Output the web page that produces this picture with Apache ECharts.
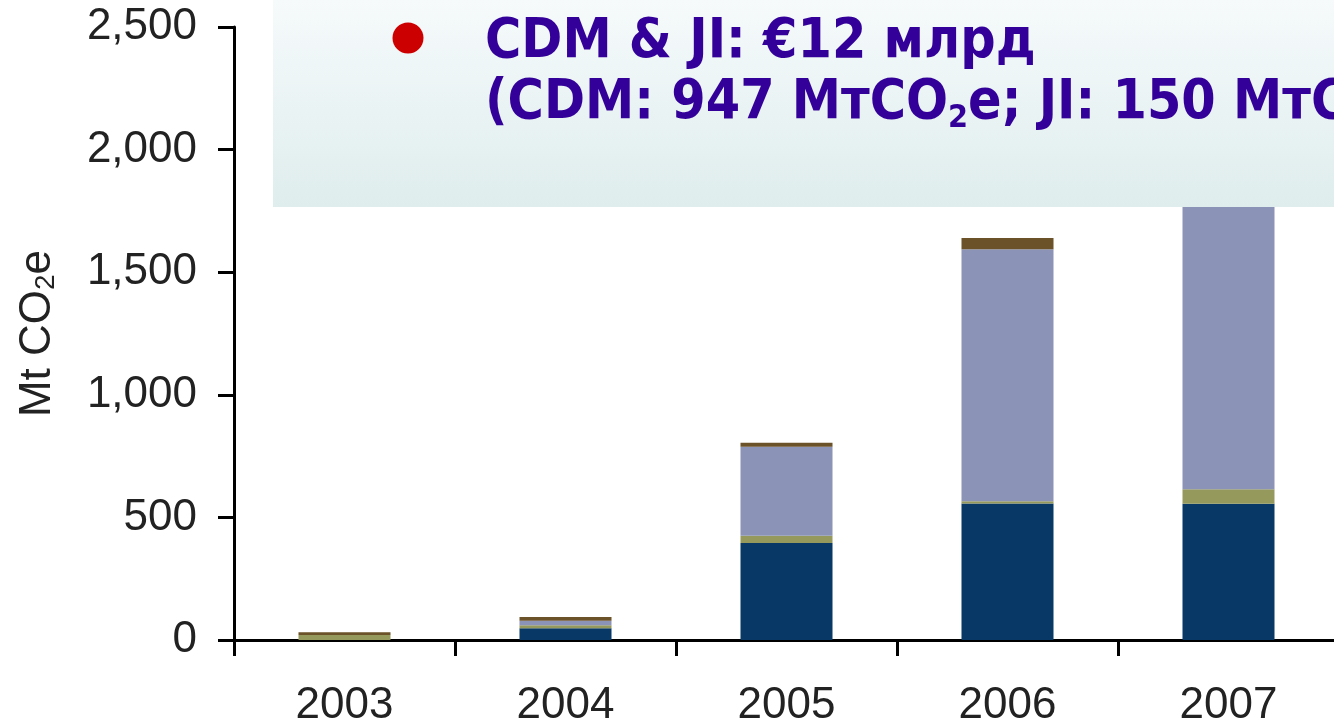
<!DOCTYPE html>
<html>
<head>
<meta charset="utf-8">
<script src="https://cdn.jsdelivr.net/npm/echarts@6/dist/echarts.min.js"></script>
<style>
  html, body { margin: 0; padding: 0; background: #fff; }
  #chart { width: 1334px; height: 724px; }
</style>
</head>
<body>
<div id="chart"></div>
<script>
// years on the x axis
const years = ['2003', '2004', '2005', '2006', '2007'];

// stacked values, Mt CO2e (bottom to top)
const navyVals = [0, 48, 396, 557, 556];
const oliveVals = [20, 12, 29, 9, 59];
const lavenderVals = [0, 18, 363, 1028, 1300];
const brownVals = [12, 16, 16, 45, 40];

const colors = ['#083866', '#959a5c', '#8b94b6', '#6b5228'];

const labelFont = "'Liberation Sans', Arial, sans-serif";
const boxFont = "'DejaVu Sans Condensed', 'DejaVu Sans', sans-serif";

const chart = echarts.init(document.getElementById('chart'));

const makeSeries = (name, data, color) => ({
  name: name,
  type: 'bar',
  stack: 'total',
  data: data,
  barWidth: 92,
  itemStyle: { color: color },
  emphasis: { disabled: true }
});

chart.setOption({
  animation: false,
  backgroundColor: '#fff',
  grid: { left: 234, top: 27, width: 1105, height: 613, containLabel: false, outerBoundsMode: 'none' },
  xAxis: {
    type: 'category',
    data: years,
    axisLine: { lineStyle: { color: '#000', width: 3 } },
    axisTick: { show: true, length: 16, lineStyle: { color: '#000', width: 3 } },
    axisLabel: { color: '#222', fontSize: 44, fontFamily: labelFont, margin: 44 }
  },
  yAxis: {
    type: 'value',
    min: 0,
    max: 2500,
    interval: 500,
    name: '{a|Mt CO}{s|2}{a|e}',
    nameLocation: 'middle',
    nameGap: 174,
    nameRotate: 90,
    nameTextStyle: {
      rich: {
        a: { fontSize: 44, fontFamily: labelFont, color: '#222' },
        s: { fontSize: 28, fontFamily: labelFont, color: '#222', verticalAlign: 'bottom', padding: [14, 0, 0, 0] }
      }
    },
    axisLine: { show: true, lineStyle: { color: '#000', width: 3 } },
    axisTick: { show: true, length: 16, lineStyle: { color: '#000', width: 3 } },
    splitLine: { show: false },
    axisLabel: {
      color: '#222',
      fontSize: 44,
      fontFamily: labelFont,
      margin: 37,
      formatter: v => v.toLocaleString('en-US')
    }
  },
  series: [
    makeSeries('CDM 1', navyVals, colors[0]),
    makeSeries('JI', oliveVals, colors[1]),
    makeSeries('CDM 2', lavenderVals, colors[2]),
    makeSeries('Other', brownVals, colors[3])
  ],
  graphic: [
    {
      type: 'rect',
      z: 100,
      shape: { x: 273, y: 0, width: 1070, height: 207 },
      style: {
        fill: new echarts.graphic.LinearGradient(0, 0, 0, 1, [
          { offset: 0, color: '#f6fafb' },
          { offset: 1, color: '#dfeded' }
        ])
      }
    },
    {
      type: 'circle',
      z: 101,
      shape: { cx: 408, cy: 38, r: 15.5 },
      style: { fill: '#cc0000' }
    },
    {
      type: 'text',
      z: 101,
      x: 485,
      y: 15,
      style: {
        text: 'CDM & JI: €12 млрд',
        font: 'bold 55px ' + boxFont,
        fill: '#330099'
      }
    },
    {
      type: 'text',
      z: 101,
      x: 485,
      y: 73,
      style: {
        text: '{a|(CDM: 947 МтCO}{s|2}{a|e; JI: 150 МтCO}{s|2}{a|e)}',
        rich: {
          a: { fontSize: 55, fontWeight: 'bold', fontFamily: boxFont, fill: '#330099', lineHeight: 62 },
          s: { fontSize: 32, fontWeight: 'bold', fontFamily: boxFont, fill: '#330099', lineHeight: 30, verticalAlign: 'bottom' }
        }
      }
    }
  ]
});
</script>
</body>
</html>
